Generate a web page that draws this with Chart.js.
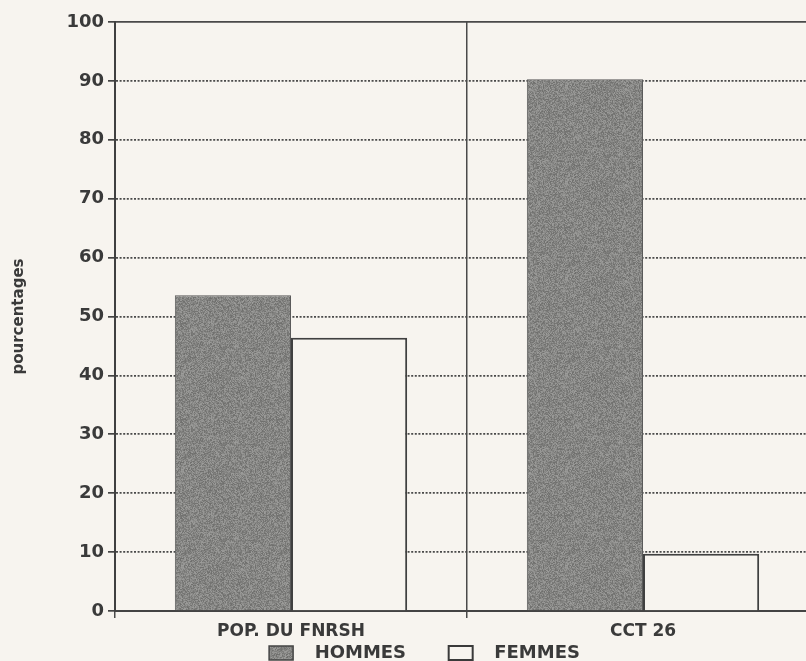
<!DOCTYPE html>
<html>
<head>
<meta charset="utf-8">
<script src="https://cdn.jsdelivr.net/npm/chart.js@4/dist/chart.umd.min.js"></script>
<style>
  html, body { margin: 0; padding: 0; background: #f7f4ef; overflow: hidden; }
  #wrap { width: 840px; height: 672px; }
</style>
</head>
<body>
<div id="wrap"><canvas id="c" width="840" height="672"></canvas></div>
<script>
// Categories, series and axis ticks
const categories = ['POP. DU FNRSH', 'CCT 26'];
const hommes = [53.6, 90.3];
const femmes = [46.4, 9.7];
const yTicks = [0, 10, 20, 30, 40, 50, 60, 70, 80, 90, 100];
const seriesNames = ['HOMMES', 'FEMMES'];
const yTitle = 'pourcentages';

const BG = '#f7f4ef';
const INK = '#3a3a3a';
const FONT = 'DejaVu Sans, Verdana, sans-serif';

// Grainy grey fill for the first series (deterministic speckle)
function grainPattern() {
  const size = 96;
  const off = document.createElement('canvas');
  off.width = size; off.height = size;
  const g = off.getContext('2d');
  const img = g.createImageData(size, size);
  let s = 12345;
  for (let i = 0; i < size * size; i++) {
    s = (s * 1103515245 + 12345) & 0x7fffffff;
    const v = 134 + ((s >> 8) % 46) - 23;
    img.data[i * 4] = v; img.data[i * 4 + 1] = v; img.data[i * 4 + 2] = v - 2; img.data[i * 4 + 3] = 255;
  }
  g.putImageData(img, 0, 0);
  return document.getElementById('c').getContext('2d').createPattern(off, 'repeat');
}
const grain = grainPattern();

const bgPlugin = {
  id: 'paper',
  beforeDraw(chart) {
    const ctx = chart.ctx;
    ctx.save();
    ctx.fillStyle = BG;
    ctx.fillRect(0, 0, chart.width, chart.height);
    ctx.restore();
  }
};

// Nudge the legend row to the right, under the plot
const legendShift = {
  id: 'legendShift',
  afterLayout(chart) {
    if (chart.legend) { chart.legend.left += 10; chart.legend.right += 10; }
  }
};

new Chart(document.getElementById('c'), {
  type: 'bar',
  data: {
    labels: categories,
    datasets: [
      { label: seriesNames[0], data: hommes, backgroundColor: grain, borderColor: '#5a5a5a', borderWidth: 1 },
      { label: seriesNames[1], data: femmes, backgroundColor: BG, borderColor: '#404040', borderWidth: 2 }
    ]
  },
  options: {
    responsive: false,
    animation: false,
    layout: { padding: { left: 10, top: 22, right: 21, bottom: 0 } },
    datasets: { bar: { categoryPercentage: 0.66, barPercentage: 1.0 } },
    plugins: {
      tooltip: { enabled: false },
      legend: {
        position: 'bottom',
        labels: {
          color: INK,
          font: { family: FONT, size: 18, weight: 'bold' },
          boxWidth: 24, boxHeight: 14, padding: 5,
          generateLabels(chart) {
            const items = Chart.defaults.plugins.legend.labels.generateLabels(chart);
            // spacing around legend entries
            items[0].text = '  ' + items[0].text + '      ';
            items[1].text = '  ' + items[1].text;
            items[0].lineWidth = 1.5; items[0].strokeStyle = '#444';
            items[1].lineWidth = 2; items[1].strokeStyle = '#3a3a3a';
            return items;
          }
        }
      }
    },
    scales: {
      x: {
        offset: true,
        afterFit(scale) { scale.height = 28; },
        grid: { offset: true, color: '#4a4a4a', lineWidth: 1.5, tickLength: 7, drawOnChartArea: true },
        border: { color: '#444', width: 2 },
        ticks: { color: INK, padding: 3, font: { family: FONT, size: 17, weight: 'bold' } }
      },
      y: {
        min: 0, max: 100,
        afterBuildTicks(scale) { scale.ticks = yTicks.map(v => ({ value: v })); },
        afterFit(scale) { scale.width = 105; },
        grid: {
          color: '#4a4a4a', lineWidth: 1.7, tickLength: 7,
          tickBorderDash: [], tickColor: '#444'
        },
        border: {
          color: '#404040', width: 2,
          dash: (ctx) => (ctx.tick && ctx.tick.value === 100) ? [] : [2, 1.6]
        },
        title: {
          display: true, text: yTitle, color: INK, padding: 0,
          font: { family: FONT, size: 15, weight: 'bold' }
        },
        ticks: {
          color: INK, padding: 4,
          font: { family: FONT, size: 18, weight: 'bold' }
        }
      }
    }
  },
  plugins: [bgPlugin, legendShift]
});
</script>
</body>
</html>
